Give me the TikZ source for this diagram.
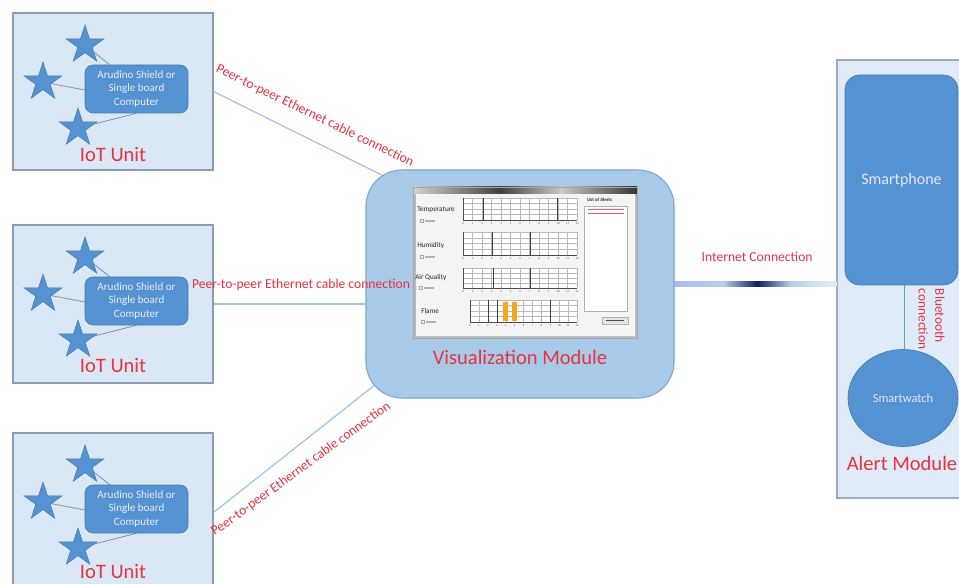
\documentclass[tikz,border=0pt]{standalone}
\usepackage{fontspec}
\setmainfont{Carlito}
\usetikzlibrary{shapes.geometric,calc}
\definecolor{iotfill}{HTML}{DAE7F4}
\definecolor{iotborder}{HTML}{8C9BB0}
\definecolor{myblue}{HTML}{5592D2}
\definecolor{visfill}{HTML}{A9C9E9}
\definecolor{visborder}{HTML}{7EA6D0}
\definecolor{alertfill}{HTML}{DFEBF7}
\definecolor{alertborder}{HTML}{9DAABD}
\definecolor{myred}{HTML}{E63241}
\definecolor{connblue}{HTML}{9DC3E6}
\definecolor{linkgray}{HTML}{7F97B5}
\definecolor{navy}{HTML}{0B1F5E}
\definecolor{lightband}{HTML}{B7D0EA}
\definecolor{gridc}{HTML}{B8B8B8}
\definecolor{flame}{HTML}{F5A623}
\pgfdeclarelayer{back}
\pgfdeclarelayer{lines}
\pgfsetlayers{back,lines,main}
\tikzset{
  iotbox/.style={draw=iotborder, fill=iotfill, line width=0.8pt, minimum width=150pt, inner sep=0pt},
  board/.style={fill=myblue, draw=myblue!85!black, line width=0.5pt, rounded corners=6pt,
    minimum width=77.25pt, minimum height=36pt, text=white!92!blue, align=center,
    font=\fontsize{8.3}{10}\selectfont, inner sep=0pt},
  staricon/.style={star, star points=5, star point ratio=2.618, fill=myblue, draw=myblue!85!black,
    line width=0.4pt, minimum size=30pt, inner sep=0pt},
  redlbl/.style={text=myred, font=\fontsize{15.4}{18}\selectfont, inner sep=0pt},
  peerlbl/.style={text=myred, font=\fontsize{10.2}{12}\selectfont, inner sep=0pt},
  conn/.style={draw=connblue, line width=0.9pt},
  starlink/.style={draw=linkgray, line width=0.6pt},
  gridline/.style={draw=gridc, line width=0.25pt},
  chartmark/.style={draw=black!75, line width=0.6pt},
  tickl/.style={font=\fontsize{2.2}{2.5}\selectfont, text=black!70, inner sep=0pt},
  scrlbl/.style={font=\fontsize{5.4}{6}\selectfont, text=black!85, inner sep=0pt, anchor=west},
}
\begin{document}
\begin{tikzpicture}[x=0.75pt,y=-0.75pt]
\useasboundingbox (0,0) rectangle (959,584);
\clip (0,0) rectangle (959,584);
\begin{pgfonlayer}{back}
  \fill[white] (0,0) rectangle (959,584);
\end{pgfonlayer}

% ---------------- IoT units ----------------
\foreach \i/\by/\ry/\h/\ly in {1/91.5/89/117.75/154.5, 2/304/301/118.5/365.5, 3/512.5/509/119.25/571.5}{
  \begin{pgfonlayer}{back}
    \node[iotbox, minimum height=\h pt] (iot\i) at (113,\by) {};
  \end{pgfonlayer}
  \node[board] (board\i) at (136.5,\ry) {Arudino Shield or\\Single board\\Computer};
  \node[staricon] (sa\i) at (85,{\ry-44}) {};
  \node[staricon] (sb\i) at (43,{\ry-7}) {};
  \node[staricon] (sc\i) at (78,{\ry+39}) {};
  \node[redlbl] (lbl\i) at (113,\ly) {IoT Unit};
  \begin{pgfonlayer}{lines}
    \draw[starlink] (sa\i.center) -- ($(board\i.north west)+(25,0)$);
    \draw[starlink] (sb\i.center) -- ($(board\i.west)+(0,1)$);
    \draw[starlink] (sc\i.center) -- (board\i.south);
  \end{pgfonlayer}
}

% ---------------- Visualization module ----------------
\node[draw=visborder, fill=visfill, line width=0.8pt, rounded corners=27pt,
      minimum width=231pt, minimum height=171pt, inner sep=0pt] (vis) at (520,284) {};
\node[redlbl] (vislbl) at (520,357) {Visualization Module};

% screenshot inside
\fill[gray!9] (413,188) rectangle (637,338);
\shade[left color=gray!35, right color=black!75] (413,187) rectangle (500,194);
\shade[left color=black!75, right color=gray!45] (500,187) rectangle (560,194);
\shade[left color=gray!40, right color=black!80] (560,187) rectangle (637,194);
\fill[gray!55] (413,194) rectangle (415.5,338);
\fill[gray!55] (634.5,194) rectangle (637,338);
\fill[gray!50] (413,335.5) rectangle (637,338);
\draw[gray!70, line width=0.5pt] (413,187) rectangle (637,338);

\foreach \cx/\cy/\ch in {463/198/22, 463/232/23, 463/268/20, 470/300/22}{
  \pgfmathsetmacro{\cw}{(577-\cx)/12}
  \fill[white] (\cx,\cy) rectangle (577,{\cy+\ch});
  \foreach \k in {0,...,12}{
    \draw[gridline] ({\cx+\k*\cw},\cy) -- ({\cx+\k*\cw},{\cy+\ch});
    \node[tickl] at ({\cx+\k*\cw},{\cy+\ch+4}) {\k};
  }
  \foreach \k in {0,...,4}{
    \draw[gridline] (\cx,{\cy+\k*\ch/4}) -- (577,{\cy+\k*\ch/4});
  }
  \draw[black!70, line width=0.4pt] (\cx,\cy) -- (\cx,{\cy+\ch}) -- (577,{\cy+\ch});
}
\fill[flame] (503,302) rectangle (508,321);
\fill[flame] (512,302) rectangle (517,321);
\draw[chartmark] (483,198) -- (483,220);
\draw[chartmark] (557,198) -- (557,220);
\draw[chartmark] (492,232) -- (492,255);
\draw[chartmark] (530,232) -- (530,255);
\draw[chartmark] (493,268) -- (493,288);
\draw[chartmark] (530,268) -- (530,288);
\draw[chartmark] (488,300) -- (488,322);
\draw[chartmark] (497,300) -- (497,322);
\draw[chartmark] (550,300) -- (550,322);

\node[scrlbl] at (417,210) {Temperature};
\node[scrlbl] at (417,246) {Humidity};
\node[scrlbl] at (415,278) {Air Quality};
\node[scrlbl] at (421,311) {Flame};
\foreach \yy/\xx in {221/420, 257/420, 288/419, 322/421}{
  \draw[gray!70, line width=0.3pt] (\xx,{\yy-1.5}) rectangle ({\xx+3},{\yy+1.5});
  \fill[gray!60] ({\xx+5},{\yy-0.6}) rectangle ({\xx+15},{\yy+0.6});
}
\node[font=\fontsize{3.6}{4}\selectfont\bfseries, text=black!85, inner sep=0pt, anchor=west] at (587,200) {List of Alerts};
\fill[white] (584,206) rectangle (627,311);
\draw[gray!60, line width=0.3pt] (584,206) rectangle (627,311);
\draw[myred!80, line width=0.7pt] (588,209.5) -- (624,209.5);
\draw[myred!80, line width=0.7pt] (588,213.5) -- (624,213.5);
\fill[gray!20] (602,317) rectangle (628,324);
\draw[gray!60, line width=0.3pt] (602,317) rectangle (628,324);
\fill[black!70] (606,320) rectangle (624,321.3);

% ---------------- Alert module ----------------
\begin{pgfonlayer}{back}
  \node[draw=alertborder, fill=alertfill, line width=0.8pt, minimum width=99.75pt,
        minimum height=328.5pt, inner sep=0pt] (alert) at (903.5,279) {};
\end{pgfonlayer}
\node[fill=myblue, draw=myblue!85!black, line width=0.5pt, rounded corners=11pt,
      minimum width=84.75pt, minimum height=157.5pt, inner sep=0pt,
      text=white!90!blue, font=\fontsize{12}{14}\selectfont] (phone) at (901.5,180) {Smartphone};
\node[ellipse, fill=myblue, draw=myblue!85!black, line width=0.5pt,
      minimum width=82.5pt, minimum height=72.75pt, inner sep=0pt,
      text=white!90!blue, font=\fontsize{9.3}{11}\selectfont] (watch) at (903,398) {Smartwatch};
\node[redlbl] (alertlbl) at (902,463) {Alert Module};
\node[text=myred, font=\fontsize{10}{12.5}\selectfont, rotate=-90, align=left, inner sep=0pt]
      (bt) at (931.5,319) {Bluetooth\\connection};

% ---------------- connectors ----------------
\coordinate (c1) at (420,194);
\coordinate (c3) at (400,365);
\coordinate (ia) at (vis.east);
\coordinate (ib) at (vis.east -| alert.west);
\begin{pgfonlayer}{lines}
  \draw[conn] (iot1.east) -- (c1);
  \draw[conn] (iot2.east) -- (iot2.east -| vis.west);
  \draw[conn] (iot3.east) -- (c3);
  \draw[draw=linkgray, line width=0.7pt] (phone.south -| 904,0) -- (watch.north -| 904,0);
  \shade[left color=lightband!90!blue, right color=lightband]
     ($(ia)+(0,-2.5)$) rectangle ($(ia)!0.3!(ib)+(0,2.5)$);
  \shade[left color=lightband, right color=navy]
     ($(ia)!0.3!(ib)+(0,-2.8)$) rectangle ($(ia)!0.51!(ib)+(0,2.8)$);
  \shade[left color=navy, right color=lightband]
     ($(ia)!0.51!(ib)+(0,-2.8)$) rectangle ($(ia)!0.72!(ib)+(0,2.8)$);
  \shade[left color=lightband, right color=lightband!35]
     ($(ia)!0.72!(ib)+(0,-2.5)$) rectangle ($(ib)+(0,2.5)$);
\end{pgfonlayer}
\node[peerlbl] (inet) at ($(ia)!0.51!(ib)+(0,-27)$) {Internet Connection};

\node[peerlbl, rotate=-26] (p1) at (315,116) {Peer-to-peer Ethernet cable connection};
\node[peerlbl] (p2) at (301,285) {Peer-to-peer Ethernet cable connection};
\node[peerlbl, rotate=36] (p3) at (301,469) {Peer-to-peer Ethernet cable connection};
\end{tikzpicture}
\end{document}
